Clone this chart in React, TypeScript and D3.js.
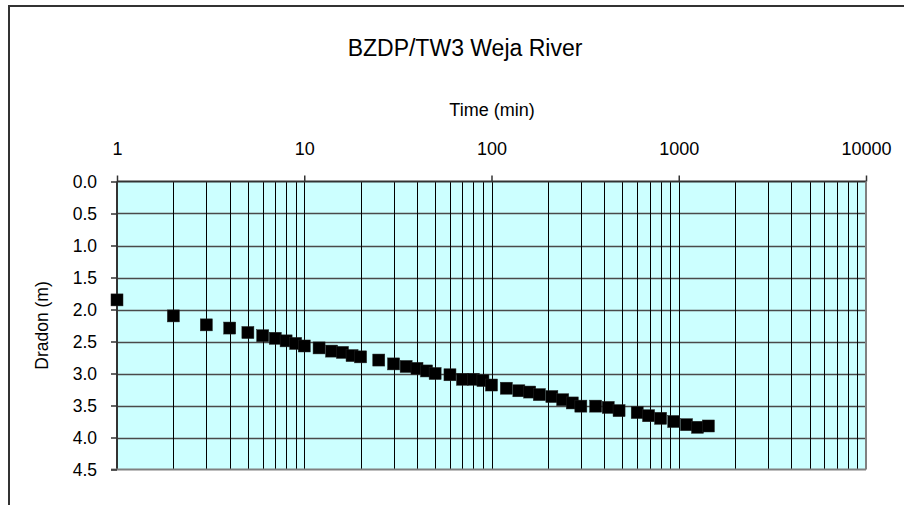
import React, { useEffect, useRef } from "react";
import * as d3 from "d3";

// pumping test: time since start (min) and drawdown (m)
const times = [1, 2, 3, 4, 5, 6, 7, 8, 9, 10, 12, 14, 16, 18, 20, 25, 30, 35, 40, 45, 50, 60, 70, 80, 90, 100, 120, 140, 160, 180, 210, 240, 270, 300, 360, 420, 480, 600, 690, 800, 940, 1100, 1260, 1440];
const drawdown = [1.85, 2.1, 2.24, 2.29, 2.36, 2.41, 2.45, 2.49, 2.53, 2.57, 2.6, 2.65, 2.67, 2.72, 2.74, 2.79, 2.85, 2.89, 2.92, 2.96, 3.0, 3.02, 3.09, 3.09, 3.11, 3.18, 3.23, 3.27, 3.29, 3.33, 3.36, 3.41, 3.46, 3.51, 3.51, 3.53, 3.58, 3.61, 3.66, 3.7, 3.75, 3.8, 3.84, 3.82];

const xTicks = [1, 10, 100, 1000, 10000];
const yTicks = [0, 0.5, 1, 1.5, 2, 2.5, 3, 3.5, 4, 4.5];

const title = "BZDP/TW3 Weja River";
const xTitle = "Time (min)";
const yTitle = "Dradon (m)";

const App = () => {
  const svgRef = useRef<SVGSVGElement>(null);

  useEffect(() => {
    const svg = d3.select(svgRef.current);
    svg.selectAll("*").remove();

    const width = 904;
    const height = 505;
    const left = 117, right = 866, top = 181.5, bottom = 469.5;
    const font = "'Liberation Sans', Arial, sans-serif";

    svg.attr("width", width).attr("height", height);

    const x = d3.scaleLog().domain([1, 10000]).range([left, right]);
    const y = d3.scaleLinear().domain([0, 4.5]).range([top, bottom]);

    // outer chart frame (cut off at right/bottom)
    svg.append("path")
      .attr("d", `M9,${height} L9,6 L${width},6`)
      .attr("fill", "none")
      .attr("stroke", "#333")
      .attr("stroke-width", 2);

    svg.append("rect")
      .attr("x", left).attr("y", top)
      .attr("width", right - left).attr("height", bottom - top)
      .attr("fill", "#ccffff");

    // horizontal grid
    svg.append("g")
      .selectAll("line")
      .data(yTicks.slice(1, -1))
      .enter()
      .append("line")
      .attr("x1", left).attr("x2", right)
      .attr("y1", d => Math.round(y(d)) + 0.5).attr("y2", d => Math.round(y(d)) + 0.5)
      .attr("stroke", "#4a4a4a")
      .attr("stroke-width", 1.3);

    // vertical log grid
    const minor: number[] = [];
    for (let dec = 1; dec < 10000; dec *= 10) {
      for (let m = 2; m <= 9; m++) minor.push(dec * m);
    }
    minor.push(10, 100, 1000);
    svg.append("g")
      .selectAll("line")
      .data(minor)
      .enter()
      .append("line")
      .attr("x1", d => Math.round(x(d)) + 0.5).attr("x2", d => Math.round(x(d)) + 0.5)
      .attr("y1", top).attr("y2", bottom)
      .attr("stroke", "#000")
      .attr("stroke-width", 1);

    // plot frame
    svg.append("line").attr("x1", left).attr("x2", right).attr("y1", top).attr("y2", top)
      .attr("stroke", "#333").attr("stroke-width", 2);
    svg.append("line").attr("x1", left).attr("x2", left).attr("y1", top).attr("y2", bottom)
      .attr("stroke", "#333").attr("stroke-width", 2);
    svg.append("line").attr("x1", right).attr("x2", right).attr("y1", top).attr("y2", bottom)
      .attr("stroke", "#808080").attr("stroke-width", 2);
    svg.append("line").attr("x1", left - 6).attr("x2", right).attr("y1", bottom).attr("y2", bottom)
      .attr("stroke", "#808080").attr("stroke-width", 2);

    // top axis
    const xAxis = svg.append("g")
      .attr("transform", `translate(0,${top})`)
      .call(d3.axisTop(x).tickValues(xTicks).tickFormat(d => String(d)).tickSize(6).tickPadding(21));
    xAxis.select(".domain").remove();
    xAxis.selectAll(".tick line").attr("stroke", "#333").attr("stroke-width", 1.5);
    xAxis.selectAll("text").attr("font-family", font).attr("font-size", 18).attr("fill", "#000");

    // left axis
    const yAxis = svg.append("g")
      .attr("transform", `translate(${left},0)`)
      .call(d3.axisLeft(y).tickValues(yTicks).tickFormat(d3.format(".1f")).tickSize(6).tickPadding(14));
    yAxis.select(".domain").remove();
    yAxis.selectAll(".tick line").attr("stroke", "#333").attr("stroke-width", 1.5);
    yAxis.selectAll("text").attr("font-family", font).attr("font-size", 17.5).attr("fill", "#000");

    // data markers
    const pts = times.map((t, i) => ({ t, d: drawdown[i] }));
    svg.append("g")
      .selectAll("rect")
      .data(pts)
      .enter()
      .append("rect")
      .attr("x", p => x(p.t) - 6)
      .attr("y", p => y(p.d) - 6)
      .attr("width", 12)
      .attr("height", 12)
      .attr("fill", "#000")
      .attr("stroke", "#222")
      .attr("stroke-width", 0.5);

    // titles
    svg.append("text")
      .attr("x", 465).attr("y", 56)
      .attr("text-anchor", "middle")
      .attr("font-family", font).attr("font-size", 23)
      .text(title);

    svg.append("text")
      .attr("x", 492).attr("y", 116)
      .attr("text-anchor", "middle")
      .attr("font-family", font).attr("font-size", 18)
      .text(xTitle);

    svg.append("text")
      .attr("transform", `translate(48,${(top + bottom) / 2}) rotate(-90)`)
      .attr("text-anchor", "middle")
      .attr("font-family", font).attr("font-size", 17.5)
      .text(yTitle);
  }, []);

  return <svg ref={svgRef} style={{ position: "absolute", left: 0, top: 0 }}></svg>;
};

export default App;
